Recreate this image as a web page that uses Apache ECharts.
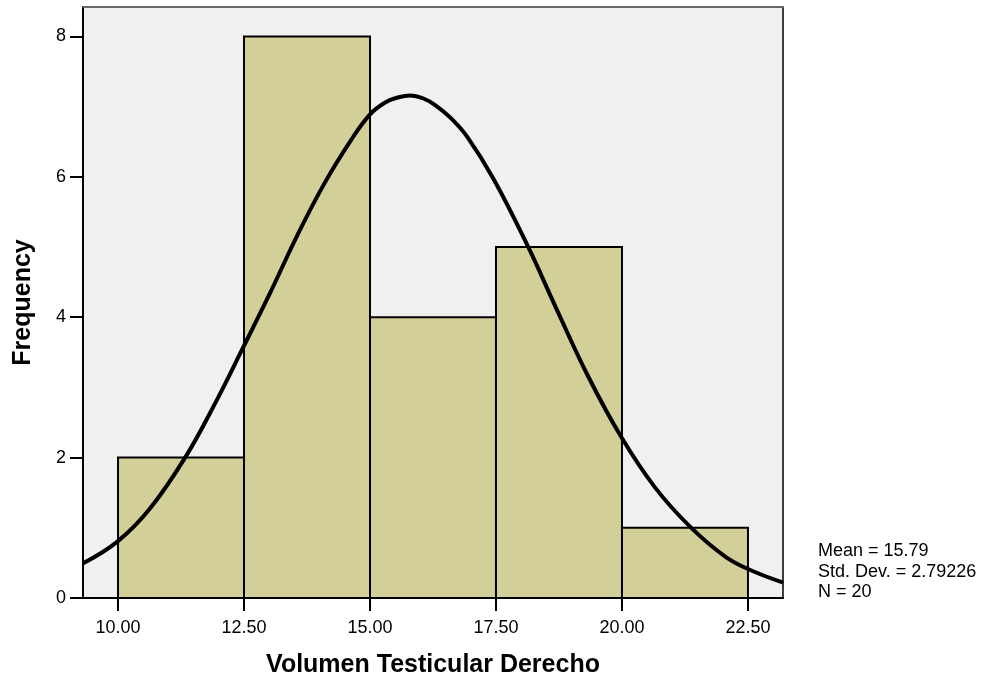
<!DOCTYPE html>
<html>
<head>
<meta charset="utf-8">
<script src="https://cdn.jsdelivr.net/npm/echarts@6/dist/echarts.min.js"></script>
<style>
html,body{margin:0;padding:0;background:#fff;}
#chart{width:985px;height:679px;}
</style>
</head>
<body>
<div id="chart"></div>
<script>
// Histogram bins (lower edge, upper edge) and frequencies
var binStart = [10.0, 12.5, 15.0, 17.5, 20.0];
var binEnd   = [12.5, 15.0, 17.5, 20.0, 22.5];
var binCount = [2, 8, 4, 5, 1];

// Normal curve points
var curveX = [9.30, 10.0, 10.63, 11.34, 11.96, 12.49, 13.02, 13.56, 14.09, 14.62, 15.0, 15.3, 15.55, 15.8, 16.05, 16.3, 16.6, 16.92, 17.46, 18.12, 18.70, 19.32, 19.98, 20.65, 21.36, 22.07, 22.64, 23.2];
var curveY = [0.49, 0.81, 1.27, 2.01, 2.82, 3.58, 4.35, 5.17, 5.90, 6.52, 6.89, 7.06, 7.13, 7.16, 7.12, 7.02, 6.84, 6.58, 5.96, 5.03, 4.12, 3.17, 2.30, 1.58, 1.01, 0.58, 0.37, 0.22];

var xTicks = [10.0, 12.5, 15.0, 17.5, 20.0, 22.5];
var yTicks = [0, 2, 4, 6, 8];

var statLines = ['Mean = 15.79', 'Std. Dev. = 2.79226', 'N = 20'];

var barData = binStart.map(function (s, i) { return [s, binEnd[i], binCount[i]]; });
var curveData = curveX.map(function (x, i) { return [x, curveY[i]]; });

var chart = echarts.init(document.getElementById('chart'), null, {renderer: 'canvas'});
var font = 'Liberation Sans, Arial, sans-serif';

chart.setOption({
  animation: false,
  grid: {
    left: 83, top: 7, right: 202, bottom: 81,
    outerBoundsMode: 'none', containLabel: false,
    show: true, backgroundColor: '#f0f0f0', borderColor: '#000', borderWidth: 1.5
  },
  xAxis: [{
    type: 'value', min: 9.305, max: 23.195,
    name: 'Volumen Testicular Derecho', nameLocation: 'middle', nameGap: 55,
    nameTextStyle: {fontFamily: font, fontSize: 25, fontWeight: 'bold', color: '#000'},
    axisLine: {show: true, lineStyle: {color: '#000', width: 2}},
    axisTick: {show: true, length: 13, lineStyle: {color: '#000', width: 2},
      customValues: xTicks},
    axisLabel: {fontFamily: font, fontSize: 18, color: '#000', margin: 21,
      customValues: xTicks,
      formatter: function (v) { return v.toFixed(2); }},
    splitLine: {show: false}
  }, {
    type: 'value', position: 'top', min: 9.305, max: 23.195,
    axisLine: {show: true, lineStyle: {color: '#777', width: 1.5}},
    axisTick: {show: false}, axisLabel: {show: false}, splitLine: {show: false}
  }],
  yAxis: {
    type: 'value', min: 0, max: 8.42,
    name: 'Frequency', nameLocation: 'middle', nameGap: 47,
    nameTextStyle: {fontFamily: font, fontSize: 25, fontWeight: 'bold', color: '#000'},
    axisLine: {show: true, lineStyle: {color: '#000', width: 2}},
    axisTick: {show: true, length: 13, lineStyle: {color: '#000', width: 2},
      customValues: yTicks},
    axisLabel: {fontFamily: font, fontSize: 18, color: '#000', margin: 17,
      customValues: yTicks},
    splitLine: {show: false}
  },
  graphic: [{
    type: 'text', left: 818, top: 541,
    style: {
      text: statLines.join('\n'), fontFamily: font, fontSize: 18,
      lineHeight: 20.5, fill: '#000'
    }
  }],
  series: [{
    type: 'custom',
    xAxisIndex: 0, yAxisIndex: 0,
    data: barData,
    encode: {x: [0, 1], y: 2},
    renderItem: function (params, api) {
      var p0 = api.coord([api.value(0), api.value(2)]);
      var p1 = api.coord([api.value(1), 0]);
      return {
        type: 'rect',
        shape: {x: p0[0], y: p0[1], width: p1[0] - p0[0], height: p1[1] - p0[1]},
        style: {fill: '#d3cf98', stroke: '#000', lineWidth: 2}
      };
    },
    z: 2
  }, {
    type: 'line',
    xAxisIndex: 0, yAxisIndex: 0,
    data: curveData,
    smooth: 0.4,
    showSymbol: false,
    lineStyle: {color: '#000', width: 4},
    z: 3
  }]
});
</script>
</body>
</html>
